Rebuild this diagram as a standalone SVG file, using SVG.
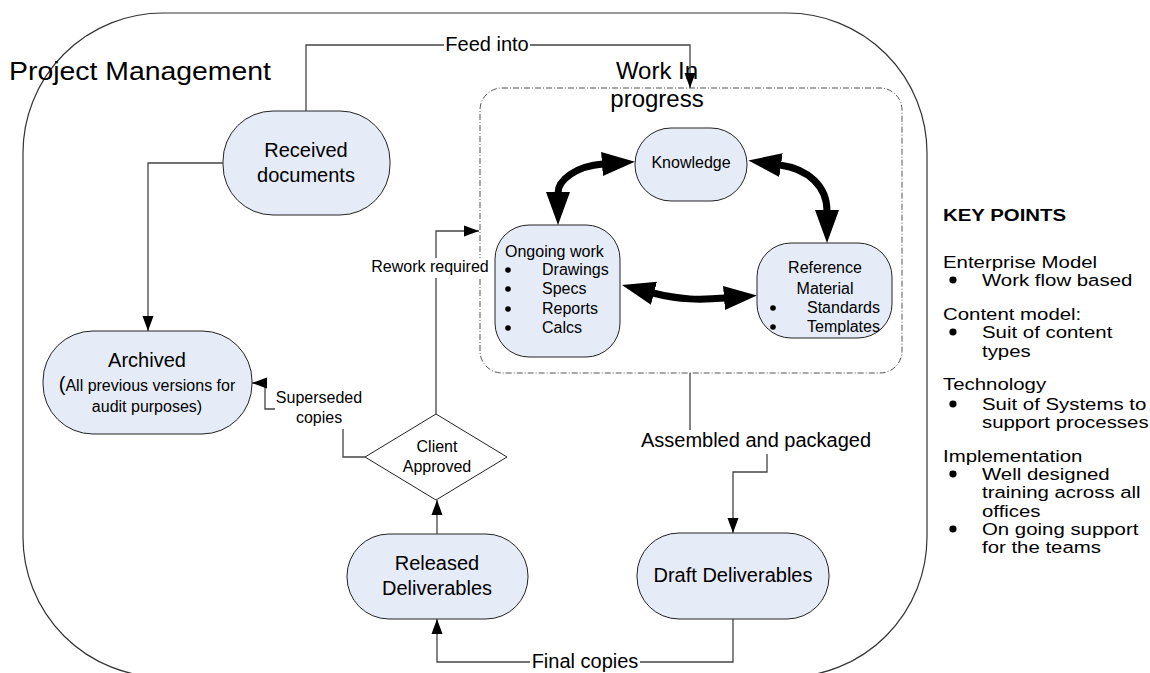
<svg xmlns="http://www.w3.org/2000/svg" width="1150" height="673" viewBox="0 0 1150 673">
  <defs>
    <style>
      text { font-family: "Liberation Sans", Arial, sans-serif; fill: #000; }
      .node { fill: #e6ecf7; stroke: #222; stroke-width: 1; }
      .frame { fill: none; stroke: #333; stroke-width: 1.2; }
      .wip { fill: none; stroke: #555; stroke-width: 1; stroke-dasharray: 6 2 1 2; }
      .conn { fill: none; stroke: #444; stroke-width: 1.3; }
      .thick { fill: none; stroke: #000; stroke-width: 7; }
      .bg { fill: #fff; }
      .dot { fill: #000; }
      .f16 { font-size: 16px; }
      .f20 { font-size: 20px; }
      .mid { text-anchor: middle; }
    </style>
    <marker id="arrow" markerUnits="userSpaceOnUse" markerWidth="16" markerHeight="12" refX="15" refY="6" orient="auto">
      <path d="M0,0.5 L15,6 L0,11.5 z" fill="#000"/>
    </marker>
    <marker id="bigArrow" markerUnits="userSpaceOnUse" markerWidth="34" markerHeight="26" refX="1" refY="13" orient="auto-start-reverse">
      <path d="M0,1 L33,13 L0,25 z" fill="#000"/>
    </marker>
  </defs>

  <rect width="1150" height="673" fill="#fff"/>

  <!-- Project Management frame -->
  <g id="project-management">
    <rect class="frame" x="23" y="13" width="904" height="664" rx="140" ry="140"/>
    <text x="9" y="80" font-size="25" textLength="262" lengthAdjust="spacingAndGlyphs">Project Management</text>
  </g>

  <!-- Work in progress container -->
  <g id="work-in-progress">
    <rect class="wip" x="480" y="88" width="422" height="285" rx="22" ry="22"/>
    <text class="mid" x="657" y="79" font-size="24">Work In</text>
    <text class="mid" x="657" y="107" font-size="24">progress</text>
  </g>

  <g id="received-documents">
    <rect class="node" x="223" y="111" width="167" height="104" rx="50" ry="50"/>
    <text class="mid f20" x="306" y="157">Received</text>
    <text class="mid f20" x="306" y="182">documents</text>
  </g>

  <g id="knowledge">
    <rect class="node" x="635" y="128" width="112" height="73" rx="36" ry="36"/>
    <text class="mid f16" x="691" y="168">Knowledge</text>
  </g>

  <g id="ongoing-work">
    <rect class="node" x="495" y="225" width="125" height="132" rx="34" ry="34"/>
    <text class="f16" x="505" y="257">Ongoing work</text>
    <circle class="dot" cx="508" cy="270" r="2.8"/><text class="f16" x="542" y="275">Drawings</text>
    <circle class="dot" cx="508" cy="289" r="2.8"/><text class="f16" x="542" y="294">Specs</text>
    <circle class="dot" cx="508" cy="309" r="2.8"/><text class="f16" x="542" y="314">Reports</text>
    <circle class="dot" cx="508" cy="328" r="2.8"/><text class="f16" x="542" y="333">Calcs</text>
  </g>

  <g id="reference-material">
    <rect class="node" x="757" y="243" width="135" height="95" rx="34" ry="34"/>
    <text class="mid f16" x="825" y="273">Reference</text>
    <text class="mid f16" x="825" y="294">Material</text>
    <circle class="dot" cx="773" cy="308" r="2.8"/><text class="f16" x="807" y="313">Standards</text>
    <circle class="dot" cx="773" cy="327" r="2.8"/><text class="f16" x="807" y="332">Templates</text>
  </g>

  <g id="archived">
    <rect class="node" x="43" y="331" width="209" height="103" rx="50" ry="50"/>
    <text class="mid f20" x="147" y="367">Archived</text>
    <text class="mid f16" x="147" y="391"><tspan font-size="20">(</tspan>All previous versions for</text>
    <text class="mid f16" x="147" y="412">audit purposes)</text>
  </g>

  <g id="client-approved">
    <path d="M365,457 L436,414 L507,457 L436,500 Z" fill="#fff" stroke="#222" stroke-width="1"/>
    <text class="mid f16" x="437" y="452">Client</text>
    <text class="mid f16" x="437" y="472">Approved</text>
  </g>

  <g id="released-deliverables">
    <rect class="node" x="347" y="534" width="181" height="85" rx="42" ry="42"/>
    <text class="mid f20" x="437" y="570">Released</text>
    <text class="mid f20" x="437" y="595">Deliverables</text>
  </g>

  <g id="draft-deliverables">
    <rect class="node" x="637" y="533" width="192" height="86" rx="42" ry="42"/>
    <text class="mid f20" x="733" y="582">Draft Deliverables</text>
  </g>

  <!-- Connectors -->
  <g id="connectors">
    <path class="conn" d="M306,111 V45 H690 V88" marker-end="url(#arrow)"/>
    <path class="conn" d="M223,163 H148 V331" marker-end="url(#arrow)"/>
    <path class="conn" d="M436,414 V231 H479" marker-end="url(#arrow)"/>
    <path class="conn" d="M365,457 H343 V409 H265 V383 H252" marker-end="url(#arrow)"/>
    <path class="conn" d="M437,534 V500" marker-end="url(#arrow)"/>
    <path class="conn" d="M690,373 V447 H767 V472 H733 V533" marker-end="url(#arrow)"/>
    <path class="conn" d="M733,619 V662 H437 V619" marker-end="url(#arrow)"/>

    <!-- two-way links inside the work area -->
    <path class="thick" d="M603,164 C576,166 558,180 558,193" marker-start="url(#bigArrow)" marker-end="url(#bigArrow)"/>
    <path class="thick" d="M780,165 C808,169 827,186 827,211" marker-start="url(#bigArrow)" marker-end="url(#bigArrow)"/>
    <path class="thick" d="M653,293 C680,300 700,300 725,298" marker-start="url(#bigArrow)" marker-end="url(#bigArrow)"/>

    <!-- connector labels -->
    <rect class="bg" x="444" y="33" width="86" height="22"/>
    <text class="mid f20" x="487" y="51">Feed into</text>
    <rect class="bg" x="371" y="258" width="118" height="20"/>
    <text class="mid f16" x="430" y="272">Rework required</text>
    <rect class="bg" x="275" y="389" width="88" height="40"/>
    <text class="mid f16" x="319" y="403">Superseded</text>
    <text class="mid f16" x="319" y="423">copies</text>
    <rect class="bg" x="640" y="430" width="233" height="24"/>
    <text class="mid f20" x="756" y="447">Assembled and packaged</text>
    <rect class="bg" x="530" y="652" width="110" height="21"/>
    <text class="mid f20" x="585" y="668">Final copies</text>
  </g>

  <!-- Key points panel -->
  <g id="key-points" transform="translate(943 0) scale(1.2 1)" font-size="17">
    <text x="0" y="221" font-weight="bold">KEY POINTS</text>
    <text x="0" y="268">Enterprise Model</text>
    <ellipse class="dot" cx="8.3" cy="280" rx="3" ry="3.4"/><text x="32.5" y="286">Work flow based</text>
    <text x="0" y="320">Content model:</text>
    <ellipse class="dot" cx="8.3" cy="332" rx="3" ry="3.4"/><text x="32.5" y="338">Suit of content</text>
    <text x="32.5" y="357">types</text>
    <text x="0" y="390">Technology</text>
    <ellipse class="dot" cx="8.3" cy="404" rx="3" ry="3.4"/><text x="32.5" y="410">Suit of Systems to</text>
    <text x="32.5" y="428">support processes</text>
    <text x="0" y="462">Implementation</text>
    <ellipse class="dot" cx="8.3" cy="474" rx="3" ry="3.4"/><text x="32.5" y="480">Well designed</text>
    <text x="32.5" y="498">training across all</text>
    <text x="32.5" y="517">offices</text>
    <ellipse class="dot" cx="8.3" cy="529" rx="3" ry="3.4"/><text x="32.5" y="535">On going support</text>
    <text x="32.5" y="553">for the teams</text>
  </g>
</svg>
